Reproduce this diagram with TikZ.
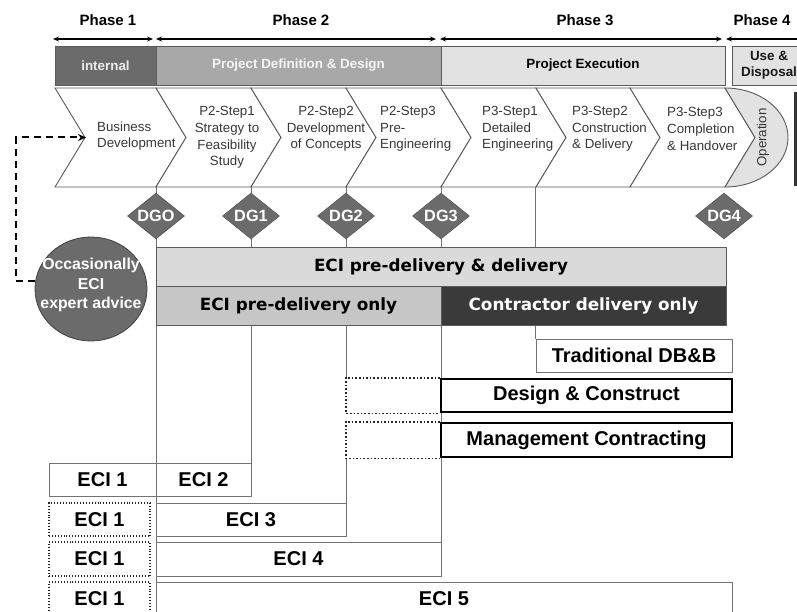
\documentclass[tikz,border=0pt]{standalone}
\usepackage{fontspec}
\setmainfont{Liberation Sans}
\newfontfamily\dvs{DejaVu Sans}
\usetikzlibrary{shapes.geometric,arrows.meta,backgrounds}

\definecolor{darkfill}{HTML}{6B6B6B}
\definecolor{midfill}{HTML}{A8A8A8}
\definecolor{lightfill}{HTML}{E2E2E2}
\definecolor{barlight}{HTML}{DADADA}
\definecolor{barmid}{HTML}{C6C6C6}
\definecolor{bardark}{HTML}{3A3A3A}
\definecolor{edgegray}{HTML}{5A5A5A}

\begin{document}
\begin{tikzpicture}[x=1pt,y=-1pt,
  phaselabel/.style={font=\bfseries\fontsize{15}{17}\selectfont, inner sep=0pt},
  phasearrow/.style={{Stealth[length=6pt,width=5pt]}-{Stealth[length=6pt,width=5pt]}, line width=1.3pt},
  phasebox/.style={draw=edgegray, line width=0.8pt, minimum height=39, inner sep=0pt,
    font=\bfseries\fontsize{13.4}{16}\selectfont, align=center},
  chev/.style={draw=edgegray, fill=white, line width=0.9pt, line join=miter},
  steptext/.style={font=\fontsize{13.3}{16.7}\selectfont, text=black!78, inner sep=0pt},
  gate/.style={diamond, fill=darkfill, draw=edgegray, line width=0.6pt, minimum width=57, minimum height=46, inner sep=0pt},
  gatetext/.style={text=white, font=\bfseries\fontsize{16.3}{16}\selectfont, inner sep=0pt},
  guide/.style={draw=black!55, line width=0.9pt},
  bar/.style={draw=edgegray, line width=0.9pt, minimum height=39, inner sep=0pt,
    font=\dvs\bfseries\fontsize{16.8}{18}\selectfont},
  routebox/.style={draw=black!55, line width=0.9pt, fill=white, minimum height=33, inner sep=0pt,
    font=\bfseries\fontsize{20}{21}\selectfont},
  heavybox/.style={routebox, draw=black, line width=2.6pt},
  dotbox/.style={routebox, draw=black!85, dotted, line width=1.4pt},
  dotline/.style={draw=black!85, dotted, line width=1.6pt},
  advice/.style={dashed, dash pattern=on 7pt off 5pt, line width=2pt, -{Stealth[length=8pt,width=7pt]}}
]
\useasboundingbox (0,0) rectangle (797,612);
\clip (0,0) rectangle (797,612);

% phase captions and spans
\node[phaselabel] (ph1) at (108,20) {Phase 1};
\node[phaselabel] (ph2) at (301,20) {Phase 2};
\node[phaselabel] (ph3) at (585,20) {Phase 3};
\node[phaselabel] (ph4) at (762,20) {Phase 4};
\coordinate (s1a) at (53,39);  \coordinate (s1b) at (153,39);
\coordinate (s2a) at (156,39); \coordinate (s2b) at (436,39);
\coordinate (s3a) at (440,39); \coordinate (s3b) at (722,39);
\coordinate (s4a) at (726,39); \coordinate (s4b) at (820,39);
\draw[phasearrow] (s1a) -- (s1b);
\draw[phasearrow] (s2a) -- (s2b);
\draw[phasearrow] (s3a) -- (s3b);
\draw[phasearrow] (s4a) -- (s4b);

% stage bar
\node[phasebox, fill=darkfill, text=black!8, minimum width=101] (internal) at (105.5,65.5) {internal};
\node[phasebox, fill=midfill, text=black!4, minimum width=285] (pdd) at (298.5,65.5) {Project Definition \& Design};
\node[phasebox, fill=lightfill, text=black, minimum width=284] (pex) at (583,65.5) {Project Execution};
\node[phasebox, fill=lightfill, text=black!90, minimum width=74] (use) at (769,65.5) {Use \&\\Disposal};

% process chevrons
\draw[chev] (55,88) -- (156,88) -- (186,137.5) -- (156,187) -- (55,187) -- (85,137.5) -- cycle;
\foreach \a/\b in {156/251, 251/346, 346/441, 441/536, 536/630, 630/725}
  \draw[chev] (\a,88) -- (\b,88) -- (\b+30,137.5) -- (\b,187) -- (\a,187) -- (\a+30,137.5) -- cycle;
\draw[chev, fill=lightfill] (725,88) -- (755,137.5) -- (725,187)
  .. controls (759.8,187) and (788,164.8) .. (788,137.5)
  .. controls (788,110.2) and (759.8,88) .. (725,88) -- cycle;
\fill[black!80] (794,92) rectangle (797,186);
\coordinate (cb) at (0,187);
\coordinate (bdnotch) at (86,137.5);

\node[steptext, anchor=west, align=left] (bd) at (97,136) {Business\\Development};
\node[steptext, align=center] (p21) at (227,137.5) {P2-Step1\\Strategy to\\Feasibility\\Study};
\node[steptext, align=center] (p22) at (326,129) {P2-Step2\\Development\\of Concepts};
\node[steptext, anchor=west, align=left] (p23) at (380,129) {P2-Step3\\Pre-\\Engineering};
\node[steptext, anchor=west, align=left] (p31) at (482,129) {P3-Step1\\Detailed\\Engineering};
\node[steptext, anchor=west, align=left] (p32) at (572,129) {P3-Step2\\Construction\\\& Delivery};
\node[steptext, anchor=west, align=left] (p33) at (667,129) {P3-Step3\\Completion\\\& Handover};
\node[steptext, rotate=90] (op) at (763,137.5) {Operation};

% decision gates
\node[gate] (dg0) at (156,216) {};
\node[gate] (dg1) at (251,216) {};
\node[gate] (dg2) at (346,216) {};
\node[gate] (dg3) at (441,216) {};
\node[gate] (dg4) at (724,216) {};
\node[gatetext] at (dg0) {DGO};
\node[gatetext] at (dg1) {DG1};
\node[gatetext] at (dg2) {DG2};
\node[gatetext] at (dg3) {DG3};
\node[gatetext] at (dg4) {DG4};

% expert advice
\node[ellipse, fill=darkfill, draw=black!75, line width=0.8pt, minimum width=112, minimum height=104, inner sep=0pt] (occ) at (91,289) {};
\node[text=white, align=center, font=\bfseries\fontsize{15.8}{19.5}\selectfont, inner sep=0pt] (occtxt) at (91,285) {Occasionally\\ECI\\expert advice};
\draw[advice] (occ.172) -- ++(-19,0) |- (bdnotch);

% involvement bars
\node[bar, fill=barlight, minimum width=570] (ecid) at (441,266.5) {ECI pre-delivery \& delivery};
\node[bar, fill=barmid, minimum width=285] (ecip) at (298.5,305.5) {ECI pre-delivery only};
\node[bar, fill=bardark, text=white, minimum width=285] (cdo) at (583.5,305.5) {Contractor delivery only};

% procurement routes
\node[routebox, minimum width=196] (trad) at (634,355.5) {Traditional DB\&B};
\node[heavybox, minimum width=291] (dc) at (586.5,395.5) {Design \& Construct};
\node[heavybox, minimum width=291, minimum height=34] (mc) at (586.5,440) {Management Contracting};

% ECI models
\node[routebox, minimum width=107] (e1a) at (102.5,479.5) {ECI 1};
\node[routebox, minimum width=95] (e2) at (203.5,479.5) {ECI 2};
\node[dotbox, minimum width=101] (e1b) at (99.5,519.5) {ECI 1};
\node[routebox, minimum width=190] (e3) at (251,519.5) {ECI 3};
\node[dotbox, minimum width=101, minimum height=34] (e1c) at (99.5,559) {ECI 1};
\node[routebox, minimum width=285, minimum height=34] (e4) at (298.5,559) {ECI 4};
\node[dotbox, minimum width=101, minimum height=34] (e1d) at (99.5,599) {ECI 1};
\node[routebox, minimum width=576, minimum height=34] (e5) at (444,599) {ECI 5};

% gate guide lines, behind everything else
\begin{scope}[on background layer]
  \draw[guide] (dg0 |- cb) -- (dg0 |- e5.north);
  \draw[guide] (dg1 |- cb) -- (dg1 |- e2.south);
  \draw[guide] (dg2 |- cb) -- (dg2 |- dc.north);
  \draw[guide] (dg2 |- mc.south) -- (dg2 |- e3.south);
  \draw[guide] (dg3 |- cb) -- (dg3 |- e4.south);
  \draw[guide] (trad.north west) -- (trad.north west |- cb);
\end{scope}
\draw[dotline] (dc.north west) -- (dg2 |- dc.north) -- (dg2 |- dc.south) -- (dc.south west);
\draw[dotline] (mc.north west) -- (dg2 |- mc.north) -- (dg2 |- mc.south) -- (mc.south west);
\end{tikzpicture}
\end{document}
